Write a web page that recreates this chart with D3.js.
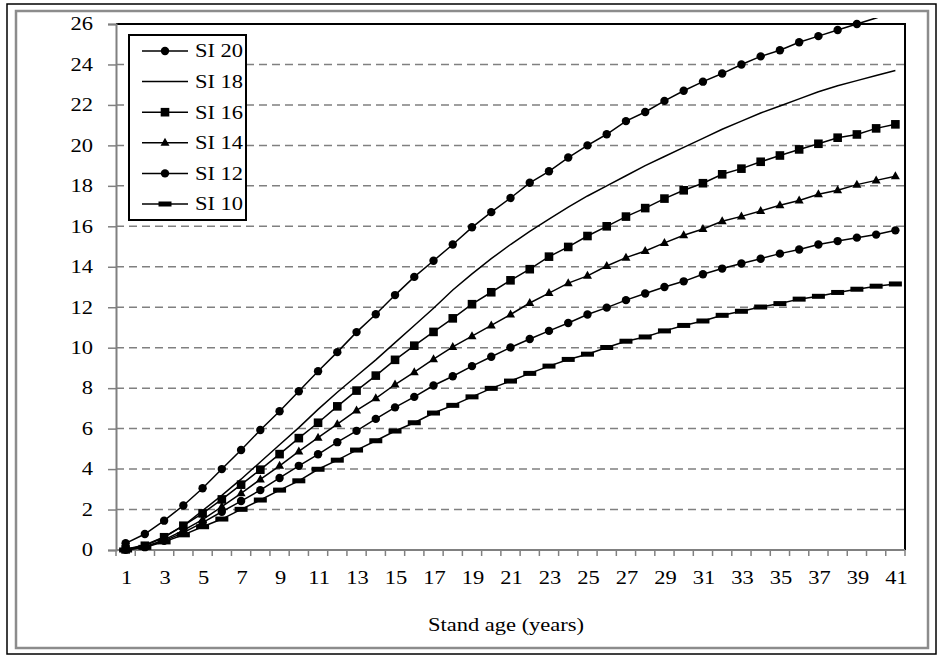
<!DOCTYPE html>
<html>
<head>
<meta charset="utf-8">
<script src="https://cdn.jsdelivr.net/npm/d3@7"></script>
<style>
  body { margin: 0; background: #fff; }
  #chart text { font-family: "Liberation Serif", "Times New Roman", "DejaVu Serif", serif; fill: #000; }
</style>
</head>
<body>
<svg id="chart" width="943" height="657"></svg>
<script>
const ages = d3.range(1, 42);
const yTicks = d3.range(0, 27, 2);
const xTickLabels = ages.filter(a => a % 2 === 1);

const si20 = [0.33, 0.79, 1.45, 2.2, 3.05, 4.0, 4.94, 5.93, 6.86, 7.85, 8.84, 9.78, 10.77, 11.65, 12.6,
  13.5, 14.3, 15.1, 15.95, 16.7, 17.4, 18.15, 18.72, 19.4, 20.0, 20.55, 21.2, 21.65, 22.2, 22.7,
  23.15, 23.55, 24.0, 24.4, 24.7, 25.1, 25.4, 25.7, 26.0, 26.3, 26.6];
const si18 = [0.04, 0.25, 0.65, 1.2, 1.95, 2.7, 3.5, 4.35, 5.2, 6.05, 6.95, 7.8, 8.6, 9.4, 10.25,
  11.1, 11.95, 12.85, 13.65, 14.4, 15.1, 15.75, 16.35, 16.95, 17.5, 18.0, 18.5, 19.0, 19.45, 19.9,
  20.35, 20.8, 21.2, 21.6, 21.95, 22.3, 22.65, 22.95, 23.2, 23.45, 23.7];
const si16 = [0.03, 0.21, 0.63, 1.2, 1.81, 2.5, 3.23, 3.97, 4.74, 5.53, 6.29, 7.1, 7.88, 8.62, 9.4,
  10.1, 10.78, 11.45, 12.15, 12.74, 13.33, 13.88, 14.5, 14.98, 15.52, 16.0, 16.48, 16.9, 17.37, 17.78,
  18.13, 18.57, 18.85, 19.19, 19.5, 19.8, 20.08, 20.38, 20.54, 20.84, 21.04];
const si14 = [0.02, 0.16, 0.5, 0.97, 1.5, 2.14, 2.8, 3.49, 4.16, 4.87, 5.55, 6.22, 6.9, 7.5, 8.18,
  8.79, 9.43, 10.04, 10.57, 11.1, 11.64, 12.21, 12.7, 13.19, 13.55, 14.04, 14.45, 14.78, 15.18, 15.56,
  15.87, 16.25, 16.49, 16.76, 17.04, 17.28, 17.58, 17.78, 18.06, 18.27, 18.47];
const si12 = [0.01, 0.14, 0.45, 0.86, 1.35, 1.89, 2.42, 2.96, 3.56, 4.16, 4.73, 5.33, 5.89, 6.48, 7.05,
  7.57, 8.13, 8.59, 9.09, 9.55, 10.01, 10.43, 10.83, 11.22, 11.64, 11.98, 12.35, 12.68, 13.0, 13.28,
  13.63, 13.91, 14.16, 14.4, 14.65, 14.85, 15.1, 15.27, 15.44, 15.59, 15.8];
const si10 = [0.0, 0.13, 0.4, 0.75, 1.15, 1.53, 2.01, 2.47, 2.96, 3.42, 3.99, 4.44, 4.94, 5.4, 5.88,
  6.29, 6.77, 7.15, 7.57, 7.99, 8.35, 8.73, 9.09, 9.42, 9.68, 10.01, 10.32, 10.53, 10.83, 11.1,
  11.32, 11.6, 11.8, 12.01, 12.18, 12.4, 12.54, 12.73, 12.89, 13.04, 13.15];

const series = [
  { name: 'SI 20', values: si20, marker: 'circle' },
  { name: 'SI 18', values: si18, marker: 'none' },
  { name: 'SI 16', values: si16, marker: 'square' },
  { name: 'SI 14', values: si14, marker: 'triangle' },
  { name: 'SI 12', values: si12, marker: 'circle' },
  { name: 'SI 10', values: si10, marker: 'dash' },
];

const svg = d3.select('#chart');
const plotLeft = 116, plotRight = 905, plotTop = 24, plotBottom = 550;
const GRAY = '#808080';
const FONT_SIZE = 18;
const STRETCH = 1.25; // the source picture is stretched horizontally

// places a text at (px, py) and widens it like the source
function putText(sel, px, py) {
  return sel.attr('x', 0).attr('y', 0)
    .attr('font-size', FONT_SIZE)
    .attr('transform', (d, i) => {
      const X = typeof px === 'function' ? px(d, i) : px;
      const Y = typeof py === 'function' ? py(d, i) : py;
      return `translate(${X},${Y}) scale(${STRETCH},1)`;
    });
}

// outer frames
svg.append('rect').attr('x', 7).attr('y', 4).attr('width', 929).attr('height', 650)
  .attr('fill', 'none').attr('stroke', '#000').attr('stroke-width', 1.5);
svg.append('rect').attr('x', 16).attr('y', 11).attr('width', 912).attr('height', 637)
  .attr('fill', 'none').attr('stroke', '#8c8c8c').attr('stroke-width', 2.5);

const x = d3.scaleBand().domain(ages).range([plotLeft, plotRight]).padding(0);
const y = d3.scaleLinear().domain([0, 26]).range([plotBottom, plotTop]);
const cx = a => x(a) + x.bandwidth() / 2;

// gridlines
svg.append('g')
  .selectAll('line')
  .data(yTicks.filter(t => t > 0 && t < 26))
  .join('line')
  .attr('x1', plotLeft).attr('x2', plotRight)
  .attr('y1', d => y(d)).attr('y2', d => y(d))
  .attr('stroke', GRAY).attr('stroke-width', 1.5)
  .attr('stroke-dasharray', '8,5');

// plot border (top, right)
svg.append('path')
  .attr('d', `M${plotLeft},${plotTop}H${plotRight}V${plotBottom}`)
  .attr('fill', 'none').attr('stroke', '#000').attr('stroke-width', 2);

// y axis
const yAxis = svg.append('g').attr('transform', `translate(${plotLeft},0)`)
  .call(d3.axisLeft(y).tickValues(yTicks).tickSize(8).tickFormat(''));
yAxis.select('.domain').attr('stroke', GRAY).attr('stroke-width', 2);
yAxis.selectAll('.tick line').attr('stroke', GRAY).attr('stroke-width', 1.5);
yAxis.selectAll('.tick text').remove();
svg.append('g').selectAll('text').data(yTicks).join('text')
  .call(putText, 93, d => y(d))
  .attr('text-anchor', 'end').attr('dy', '0.35em')
  .text(d => d);

// x axis: ticks at category boundaries, labels on odd ages
const boundaries = ages.map(a => x(a)).concat([plotRight]);
svg.append('g').selectAll('line').data(boundaries).join('line')
  .attr('x1', d => d).attr('x2', d => d)
  .attr('y1', plotBottom).attr('y2', plotBottom + 6)
  .attr('stroke', GRAY).attr('stroke-width', 1.5);
svg.append('line').attr('x1', plotLeft).attr('x2', plotRight).attr('y1', plotBottom).attr('y2', plotBottom)
  .attr('stroke', GRAY).attr('stroke-width', 2);
svg.append('g').selectAll('text').data(xTickLabels).join('text')
  .call(putText, d => cx(d) + 1, 584)
  .attr('text-anchor', 'middle')
  .text(d => d);

svg.append('text')
  .call(putText, 506, 631)
  .attr('text-anchor', 'middle')
  .text('Stand age (years)');

// series
svg.append('clipPath').attr('id', 'clip')
  .append('rect').attr('x', plotLeft).attr('y', 18)
  .attr('width', plotRight - plotLeft).attr('height', plotBottom - 18 + 6);

const line = d3.line().x((d, i) => cx(ages[i])).y(d => y(d));
const plot = svg.append('g').attr('clip-path', 'url(#clip)');

function drawMarker(g, type, px, py) {
  if (type === 'circle') {
    g.append('circle').attr('cx', px).attr('cy', py).attr('r', 4.2).attr('fill', '#000');
  } else if (type === 'square') {
    g.append('rect').attr('x', px - 4.3).attr('y', py - 4.3).attr('width', 8.6).attr('height', 8.6).attr('fill', '#000');
  } else if (type === 'triangle') {
    g.append('path').attr('d', `M${px},${py - 5}L${px + 4.5},${py + 3}L${px - 4.5},${py + 3}Z`).attr('fill', '#000');
  } else if (type === 'dash') {
    g.append('rect').attr('x', px - 6.5).attr('y', py - 2.5).attr('width', 13).attr('height', 5).attr('fill', '#000');
  }
}

series.forEach(s => {
  plot.append('path').datum(s.values)
    .attr('d', line)
    .attr('fill', 'none').attr('stroke', '#000').attr('stroke-width', 1.5);
  const mg = plot.append('g');
  s.values.forEach((v, i) => {
    if (y(v) >= plotTop - 1) drawMarker(mg, s.marker, cx(ages[i]), y(v));
  });
});

// legend
const legend = svg.append('g');
legend.append('rect').attr('x', 129).attr('y', 35).attr('width', 117).attr('height', 185)
  .attr('fill', '#fff').attr('stroke', '#000').attr('stroke-width', 2);
series.forEach((s, i) => {
  const ly = 51 + i * 30.6;
  legend.append('line').attr('x1', 142).attr('x2', 188).attr('y1', ly).attr('y2', ly)
    .attr('stroke', '#000').attr('stroke-width', 1.5);
  drawMarker(legend, s.marker, 165, ly);
  legend.append('text').call(putText, 195, ly).attr('dy', '0.35em').text(s.name);
});
</script>
</body>
</html>
